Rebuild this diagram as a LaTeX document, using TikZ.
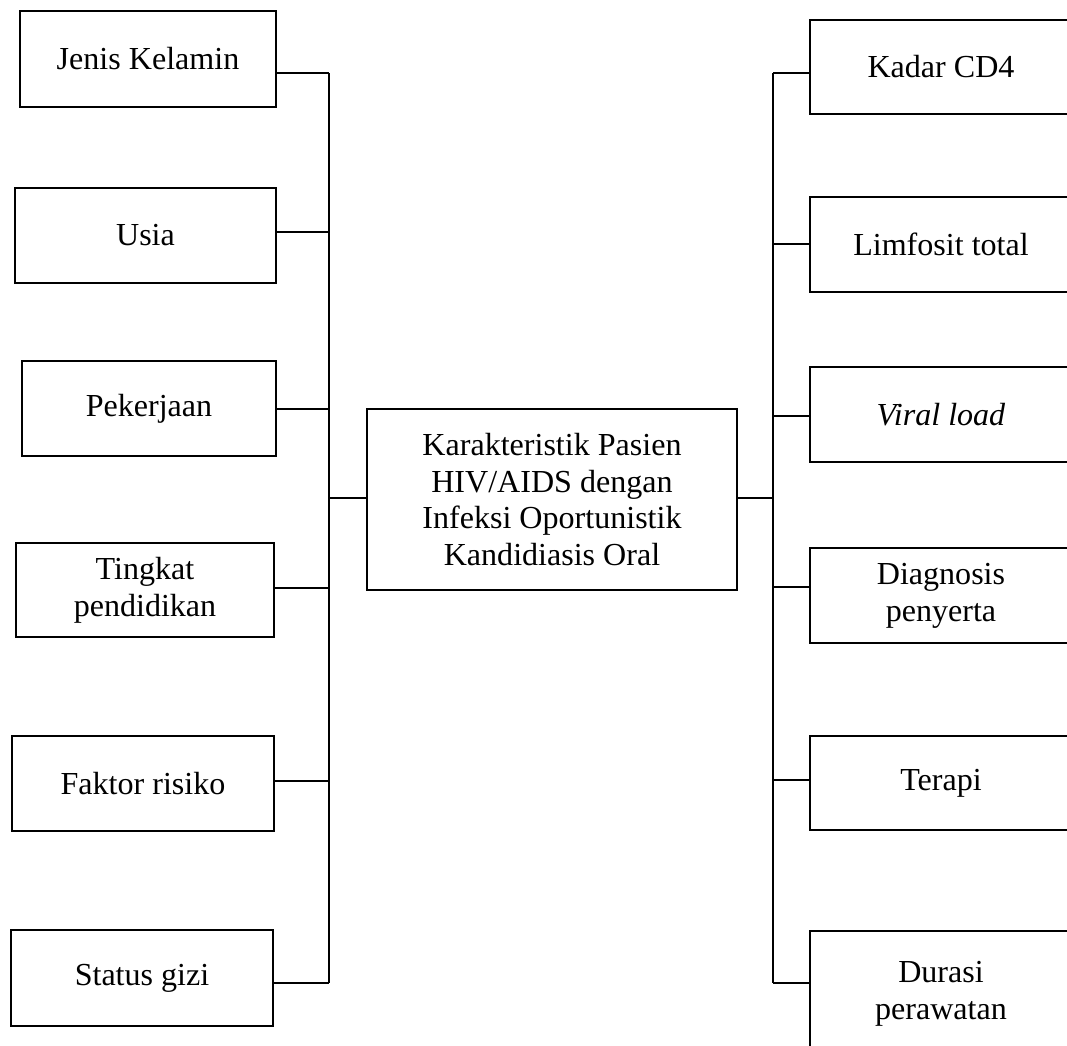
\documentclass[tikz,border=0pt]{standalone}
\usepackage{fontspec}
\setmainfont{Liberation Serif}
\usepackage{xcolor}
\usepackage{tikz}
\usetikzlibrary{positioning}
\definecolor{kaLine}{HTML}{000000}
\definecolor{kaFill}{HTML}{FFFFFF}
\tikzset{
  box/.style={
    rectangle,
    draw=kaLine,
    fill=kaFill,
    line width=1.5pt,
    align=center,
    inner sep=0pt,
    font=\fontsize{22.8}{26.1}\selectfont,
    minimum height=2.375cm
  },
  lbox/.style={box, minimum width=6.45cm},
  rbox/.style={box, minimum width=6.55cm},
  mainbox/.style={box, minimum width=9.25cm, minimum height=4.525cm},
  link/.style={line width=1.5pt, draw=kaLine}
}

\begin{document}
\begin{tikzpicture}[x=0.025cm, y=-0.025cm]
  \useasboundingbox (0,0) rectangle (1067,1046);

  % centre
  \node[mainbox] (main) at (552,499.5) {Karakteristik Pasien\\HIV/AIDS dengan\\Infeksi Oportunistik\\Kandidiasis Oral};

  % left column
  \node[lbox, minimum width=6.40cm, minimum height=2.40cm] (jenis) at (148,59) {Jenis Kelamin};
  \node[lbox, minimum width=6.525cm] (usia) at (145.5,235.5) {Usia};
  \node[lbox, minimum width=6.35cm] (kerja) at (149,408.5) {Pekerjaan};
  \node[lbox, minimum height=2.35cm] (didik) at (145,590) {Tingkat\\pendidikan};
  \node[lbox, minimum width=6.55cm] (risiko) at (143,783.5) {Faktor risiko};
  \node[lbox, minimum width=6.55cm, minimum height=2.40cm] (gizi) at (142,978) {Status gizi};

  % right column
  \node[rbox, minimum height=2.35cm] (cd4) at (941,67) {Kadar CD4};
  \node[rbox] (limfo) at (941,244.5) {Limfosit total};
  \node[rbox] (viral) at (941,414.5) {\itshape Viral load};
  \node[rbox] (diag) at (941,595.5) {Diagnosis\\penyerta};
  \node[rbox, minimum height=2.35cm] (terapi) at (941,783) {Terapi};
  \node[rbox, minimum height=3.15cm] (durasi) at (941,994) {Durasi\\perawatan};

  % spines
  \coordinate (ltop) at (329,73);
  \coordinate (lbot) at (329,983);
  \coordinate (lmid) at (329,498);
  \coordinate (rtop) at (773,73);
  \coordinate (rbot) at (773,983);
  \coordinate (rmid) at (773,498);

  \draw[link] (ltop) -- (lbot);
  \draw[link] (rtop) -- (rbot);

  \draw[link] (jenis.east |- ltop) -- (ltop);
  \draw[link] (usia.east |- 0,232) -- (329,232);
  \draw[link] (kerja.east |- 0,409) -- (329,409);
  \draw[link] (didik.east |- 0,588) -- (329,588);
  \draw[link] (risiko.east |- 0,781) -- (329,781);
  \draw[link] (gizi.east |- lbot) -- (lbot);
  \draw[link] (lmid) -- (main.west |- lmid);

  \draw[link] (main.east |- rmid) -- (rmid);
  \draw[link] (rtop) -- (cd4.west |- rtop);
  \draw[link] (773,244) -- (limfo.west |- 0,244);
  \draw[link] (773,416) -- (viral.west |- 0,416);
  \draw[link] (773,587) -- (diag.west |- 0,587);
  \draw[link] (773,780) -- (terapi.west |- 0,780);
  \draw[link] (rbot) -- (durasi.west |- rbot);
\end{tikzpicture}
\end{document}
